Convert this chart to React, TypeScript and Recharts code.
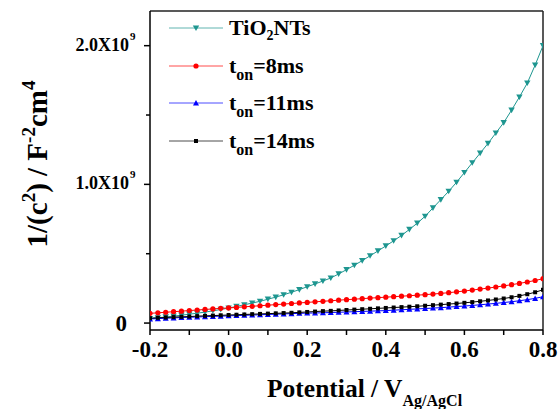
import React from 'react';
import { LineChart, Line, XAxis, YAxis, Legend, Label, ReferenceLine } from 'recharts';

// Potential (V vs Ag/AgCl)
const potential = [
  -0.2, -0.18, -0.16, -0.14, -0.12, -0.1, -0.08, -0.06, -0.04, -0.02,
  0, 0.02, 0.04, 0.06, 0.08, 0.1, 0.12, 0.14, 0.16, 0.18,
  0.2, 0.22, 0.24, 0.26, 0.28, 0.3, 0.32, 0.34, 0.36, 0.38,
  0.4, 0.42, 0.44, 0.46, 0.48, 0.5, 0.52, 0.54, 0.56, 0.58,
  0.6, 0.62, 0.64, 0.66, 0.68, 0.7, 0.72, 0.74, 0.76, 0.78,
  0.8,
];

// 1/C^2 in units of 10^9 F^-2 cm^4
const tio2NTs = [
  0.032, 0.038, 0.044, 0.05, 0.057, 0.064, 0.071, 0.079, 0.088, 0.098,
  0.108, 0.12, 0.132, 0.144, 0.157, 0.172, 0.187, 0.204, 0.222, 0.241,
  0.262, 0.282, 0.303, 0.325, 0.354, 0.385, 0.417, 0.45, 0.485, 0.52,
  0.556, 0.593, 0.632, 0.675, 0.72, 0.77, 0.83, 0.89, 0.95, 1.015,
  1.085, 1.155, 1.225, 1.295, 1.37, 1.445, 1.535, 1.63, 1.73, 1.86,
  2.0,
];
const ton8 = [
  0.07, 0.074, 0.078, 0.082, 0.086, 0.09, 0.094, 0.098, 0.102, 0.106,
  0.109, 0.113, 0.117, 0.121, 0.125, 0.129, 0.133, 0.137, 0.141, 0.145,
  0.149, 0.153, 0.157, 0.161, 0.165, 0.169, 0.172, 0.176, 0.18, 0.183,
  0.187, 0.19, 0.194, 0.197, 0.201, 0.205, 0.209, 0.214, 0.219, 0.225,
  0.231, 0.238, 0.245, 0.252, 0.26, 0.268, 0.277, 0.286, 0.296, 0.307,
  0.32,
];
const ton11 = [
  0.03, 0.032, 0.035, 0.037, 0.04, 0.042, 0.044, 0.046, 0.048, 0.05,
  0.052, 0.054, 0.056, 0.058, 0.06, 0.062, 0.064, 0.066, 0.068, 0.07,
  0.072, 0.073, 0.074, 0.076, 0.078, 0.08, 0.082, 0.084, 0.086, 0.088,
  0.09, 0.093, 0.096, 0.099, 0.102, 0.105, 0.108, 0.111, 0.115, 0.119,
  0.123, 0.127, 0.132, 0.137, 0.142, 0.148, 0.154, 0.161, 0.169, 0.178,
  0.19,
];
const ton14 = [
  0.035, 0.038, 0.04, 0.043, 0.045, 0.047, 0.05, 0.052, 0.054, 0.056,
  0.058, 0.06, 0.062, 0.064, 0.066, 0.068, 0.07, 0.072, 0.074, 0.077,
  0.08, 0.083, 0.086, 0.088, 0.091, 0.094, 0.097, 0.1, 0.103, 0.106,
  0.109, 0.112, 0.115, 0.118, 0.121, 0.125, 0.129, 0.133, 0.137, 0.141,
  0.146, 0.151, 0.157, 0.163, 0.17, 0.177, 0.186, 0.196, 0.208, 0.222,
  0.24,
];

const xTicks = [-0.2, -0.1, 0, 0.1, 0.2, 0.3, 0.4, 0.5, 0.6, 0.7, 0.8];
const yTicks = [0, 0.5, 1, 1.5, 2];

const FONT = "'Liberation Serif', 'Times New Roman', serif";
const TEAL = '#1e9690';
const RED = '#ff0000';
const BLUE = '#0000ff';
const BLACK = '#000000';

const data = potential.map((v, i) => ({
  v,
  tio2: tio2NTs[i],
  t8: ton8[i],
  t11: ton11[i],
  t14: ton14[i],
}));

type Shape = 'down' | 'circle' | 'up' | 'square';

function marker(shape: Shape, color: string, cx: number, cy: number, key?: React.Key) {
  if (shape === 'down')
    return <path key={key} d={`M${cx - 3.2},${cy - 2.6}L${cx + 3.2},${cy - 2.6}L${cx},${cy + 3}Z`} fill={color} />;
  if (shape === 'up')
    return <path key={key} d={`M${cx - 3},${cy + 2.5}L${cx + 3},${cy + 2.5}L${cx},${cy - 3}Z`} fill={color} />;
  if (shape === 'square')
    return <rect key={key} x={cx - 2} y={cy - 2} width={4} height={4} fill={color} />;
  return <circle key={key} cx={cx} cy={cy} r={2.6} fill={color} />;
}

const dotFor = (shape: Shape, color: string) => (p: any) => marker(shape, color, p.cx, p.cy, p.index);

const series = [
  { key: 'tio2', color: TEAL, shape: 'down' as Shape, label: ['TiO', '2', 'NTs'] },
  { key: 't8', color: RED, shape: 'circle' as Shape, label: ['t', 'on', '=8ms'] },
  { key: 't11', color: BLUE, shape: 'up' as Shape, label: ['t', 'on', '=11ms'] },
  { key: 't14', color: BLACK, shape: 'square' as Shape, label: ['t', 'on', '=14ms'] },
];

function YTick(props: any) {
  const { x, y, payload } = props;
  const v = payload.value as number;
  const major = Number.isInteger(v);
  return (
    <g>
      <line x1={x} x2={x - (major ? 6 : 4)} y1={y} y2={y} stroke="#000" strokeWidth={1.5} />
      {v === 0 && (
        <text x={x - 23} y={y + 8} textAnchor="end" fontSize={23} fontWeight="bold" fontFamily={FONT} fill="#000">
          0
        </text>
      )}
      {major && v !== 0 && (
        <g>
          <text x={x - 21} y={y + 5} textAnchor="end" fontSize={18} fontWeight="bold" fontFamily={FONT} fill="#000">
            {v.toFixed(1)}X10
          </text>
          <text x={x - 20} y={y - 6} textAnchor="start" fontSize={11} fontWeight="bold" fontFamily={FONT} fill="#000">
            9
          </text>
        </g>
      )}
    </g>
  );
}

function XTick(props: any) {
  const { x, y, payload } = props;
  const v = payload.value as number;
  const major = Math.round(v * 10) % 2 === 0;
  return (
    <g>
      <line x1={x} x2={x} y1={y} y2={y + 5} stroke="#000" strokeWidth={1.5} />
      {major && (
        <text x={x} y={y + 27} textAnchor="middle" fontSize={23} fontWeight="bold" fontFamily={FONT} fill="#000">
          {v.toFixed(1)}
        </text>
      )}
    </g>
  );
}

function LegendBox() {
  return (
    <div style={{ fontFamily: FONT, fontWeight: 'bold', fontSize: 22, color: '#000' }}>
      {series.map((s) => (
        <div key={s.key} style={{ display: 'flex', alignItems: 'center', height: 37.7 }}>
          <svg width={54} height={12} style={{ display: 'block' }}>
            <line x1={0} x2={54} y1={6} y2={6} stroke={s.color} strokeWidth={1} strokeOpacity={0.7} />
            {marker(s.shape, s.color, 27, 6)}
          </svg>
          <span style={{ marginLeft: 6, lineHeight: 1, whiteSpace: 'nowrap' }}>
            {s.label[0]}
            <span style={{ fontSize: s.key === 'tio2' ? 14 : 16, position: 'relative', top: s.key === 'tio2' ? 5 : 7 }}>
              {s.label[1]}
            </span>
            {s.label[2]}
          </span>
        </div>
      ))}
    </div>
  );
}

export default function App() {
  return (
    <div style={{ position: 'absolute', left: 0, top: 0, width: 559, height: 409, background: '#fff' }}>
      <LineChart width={559} height={409} data={data} margin={{ top: 11, right: 16, left: 0, bottom: 0 }}>
        <XAxis
          dataKey="v"
          type="number"
          domain={[-0.2, 0.8]}
          ticks={xTicks}
          interval={0}
          allowDataOverflow
          height={79}
          tickSize={0}
          tickMargin={0}
          tick={<XTick />}
          stroke="#000"
          strokeWidth={1.5}
          axisLine
        >
          <Label
            content={() => (
              <text x={267} y={397} fontSize={25.5} fontWeight="bold" fontFamily={FONT} fill="#000">
                Potential / V
                <tspan fontSize={16} dy={9}>Ag/AgCl</tspan>
              </text>
            )}
          />
        </XAxis>
        <YAxis
          type="number"
          domain={[-0.05, 2.25]}
          ticks={yTicks}
          interval={0}
          allowDataOverflow
          width={150}
          tickSize={0}
          tickMargin={0}
          tick={<YTick />}
          stroke="#000"
          strokeWidth={1.5}
          axisLine
        >
          <Label
            content={() => (
              <text
                transform="translate(47,164) rotate(-90)"
                x={0}
                y={0}
                textAnchor="middle"
                fontSize={29}
                fontWeight="bold"
                fontFamily={FONT}
                fill="#000"
              >
                1/(c<tspan fontSize={19} dy={-12}>2</tspan>
                <tspan dy={12}>) / F</tspan>
                <tspan fontSize={19} dy={-12}>-2</tspan>
                <tspan dy={12}>cm</tspan>
                <tspan fontSize={19} dy={-12}>4</tspan>
              </text>
            )}
          />
        </YAxis>
        {/* frame: top and right edges of the plot box */}
        <ReferenceLine y={2.25} stroke="#222" strokeWidth={1.5} ifOverflow="visible" />
        <ReferenceLine x={0.8} stroke="#222" strokeWidth={1.5} ifOverflow="visible" />
        <Legend
          layout="horizontal"
          verticalAlign="middle"
          align="center"
          content={() => <LegendBox />}
          wrapperStyle={{ left: 169, top: 9, width: 'auto' }}
        />
        {series.map((s) => (
          <Line
            key={s.key}
            dataKey={s.key}
            type="linear"
            stroke={s.color}
            strokeWidth={1}
            dot={dotFor(s.shape, s.color)}
            activeDot={false}
            isAnimationActive={false}
          />
        ))}
      </LineChart>
    </div>
  );
}
